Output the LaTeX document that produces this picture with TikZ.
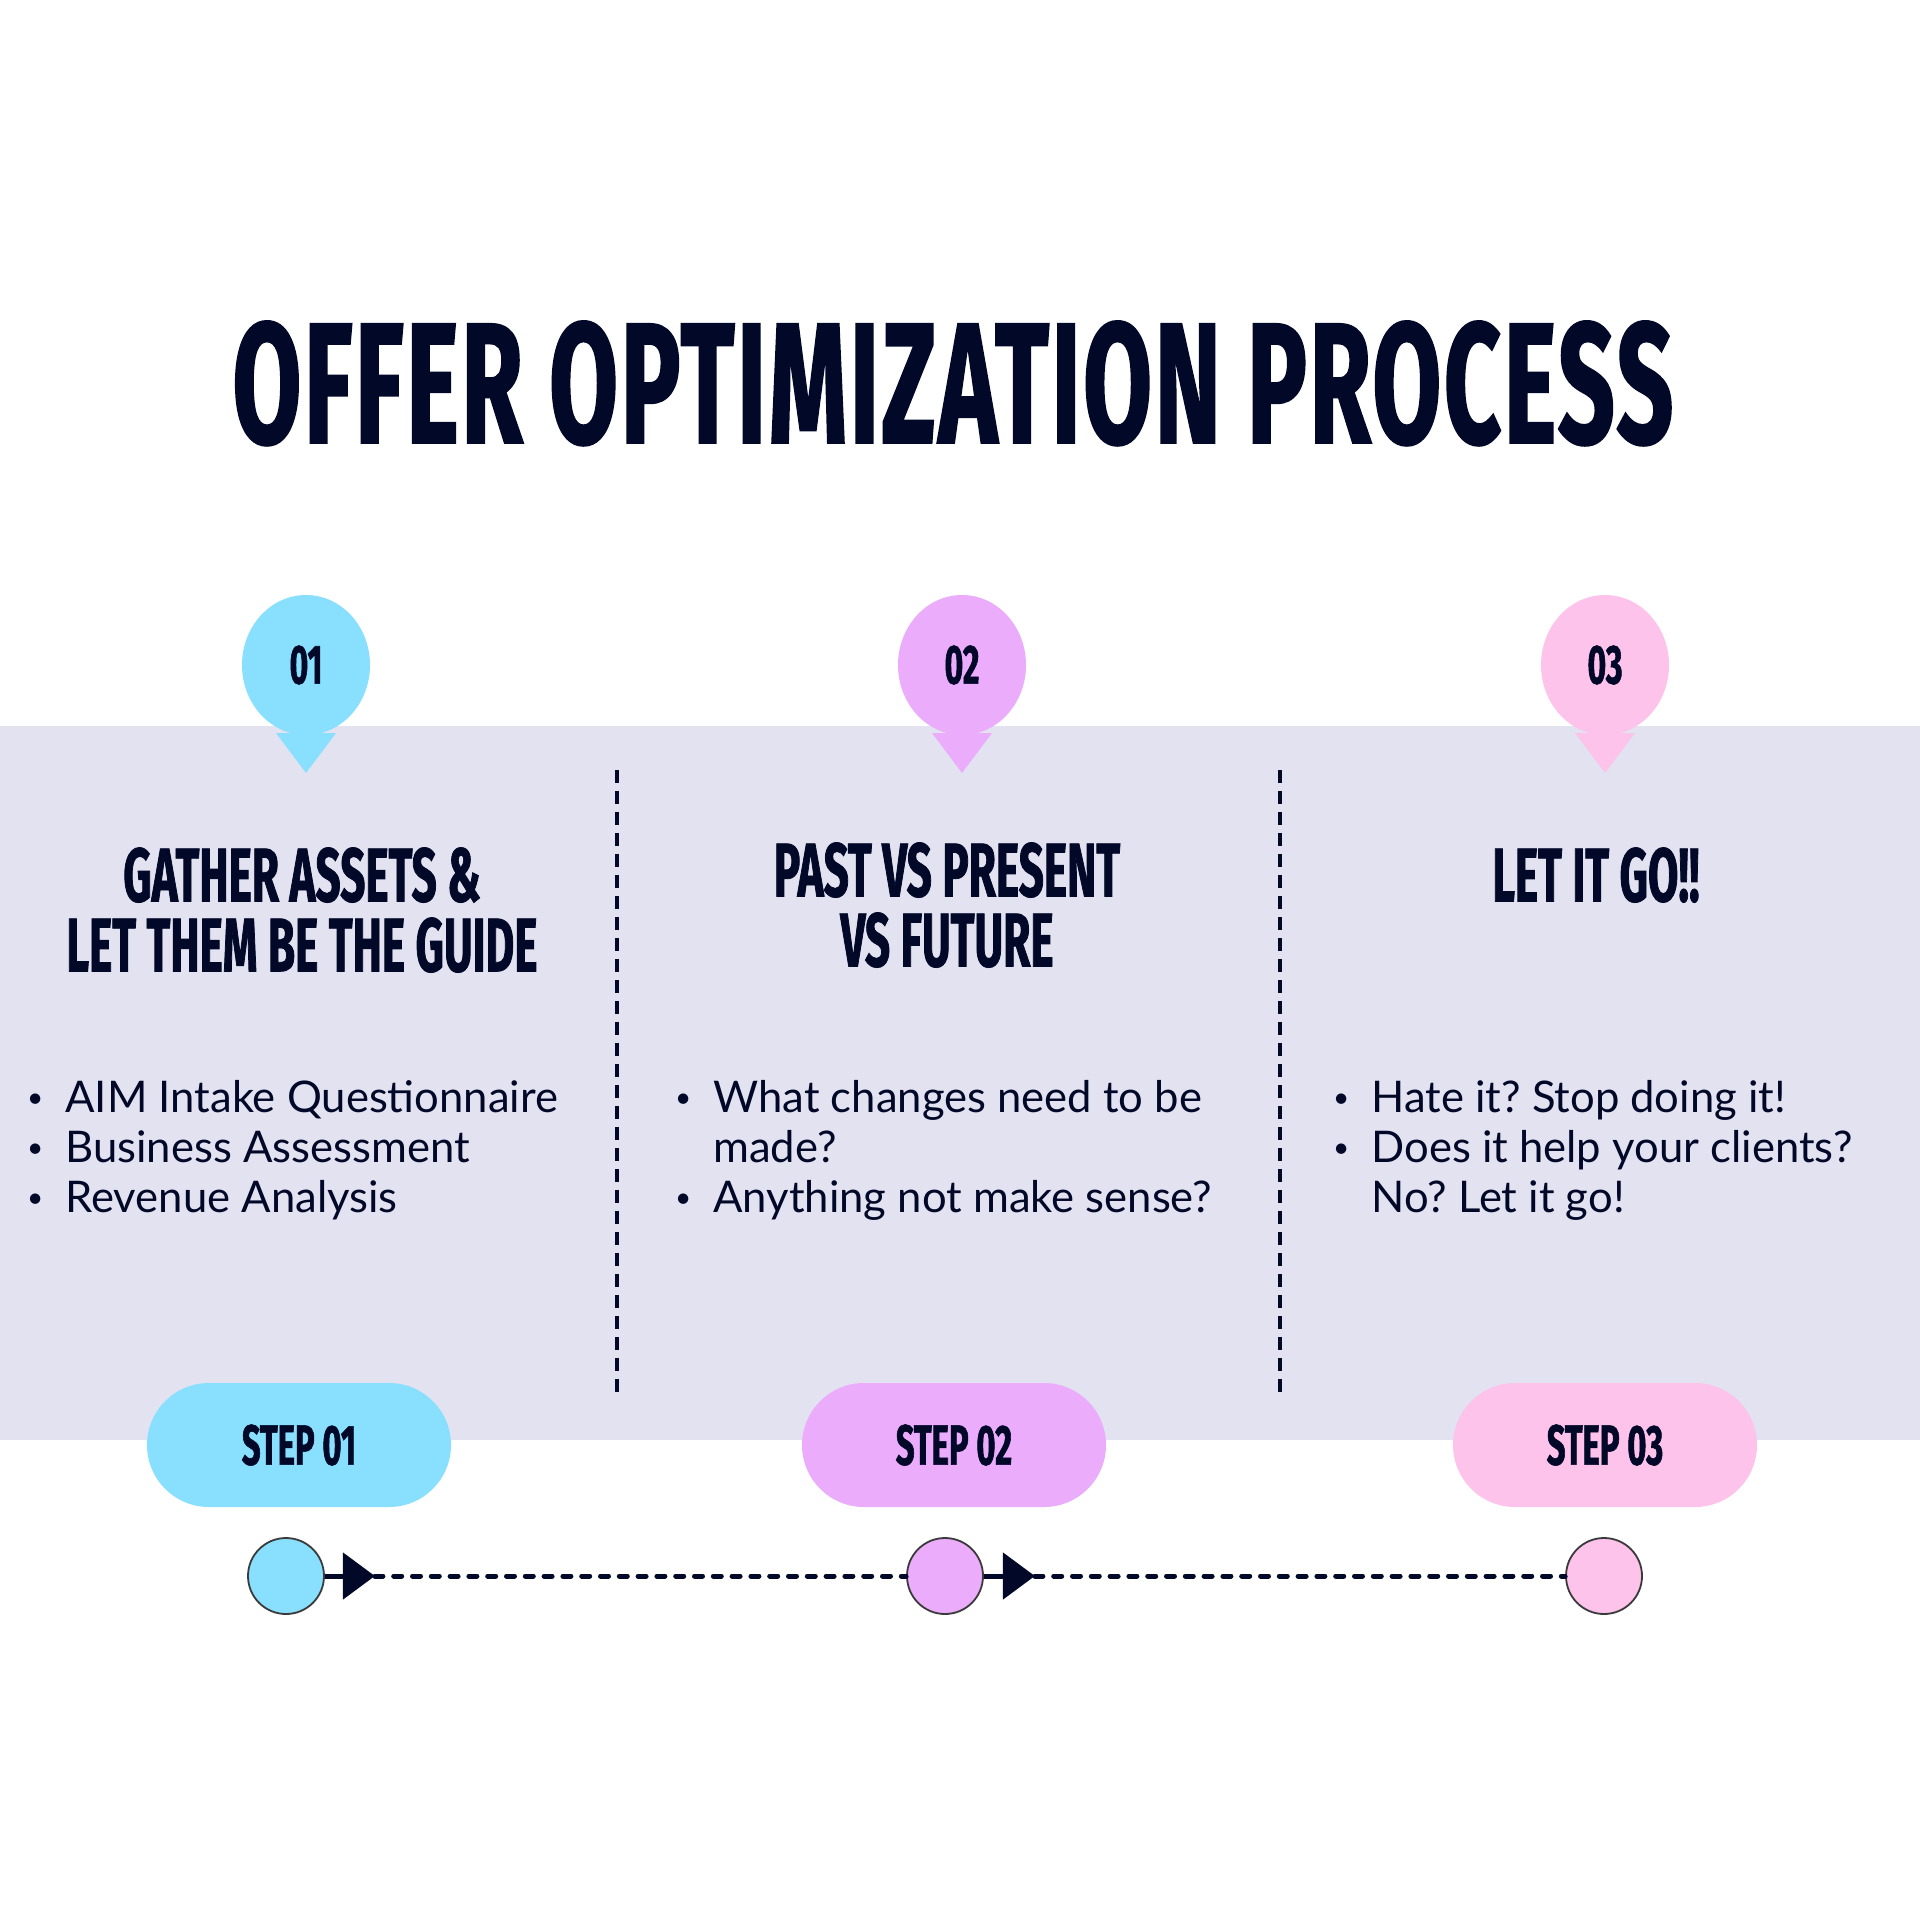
\documentclass[tikz,border=0pt]{standalone}
\usepackage{fontspec}
\setmainfont{Lato}
\newfontfamily\condfont[FakeStretch=0.58,FakeBold=1]{Fira Sans}
\newfontfamily\titlefont[FakeStretch=0.58,FakeBold=1,LetterSpace=1.5]{Fira Sans}
\usetikzlibrary{
    arrows.meta,
    positioning,
    calc,
    shapes.geometric
}

\definecolor{navy}{HTML}{020828}
\definecolor{bandgray}{HTML}{E2E2F0}
\definecolor{skyblue}{HTML}{88DFFE}
\definecolor{orchid}{HTML}{EAACFB}
\definecolor{blush}{HTML}{FDC3EA}
\definecolor{dotline}{HTML}{3A3A3A}

\newcommand{\bul}{\llap{\raisebox{2.4pt}{\fontsize{14}{14}\selectfont\textbullet}\hspace{11pt}}}
\frenchspacing

\tikzset{
    title/.style={font=\titlefont\bfseries\fontsize{86}{86}\selectfont, text=navy, inner sep=0pt, anchor=base},
    heading/.style={font=\condfont\bfseries\fontsize{38}{35}\selectfont, text=navy, align=center, inner sep=0pt, anchor=north},
    bulletlist/.style={font=\fontsize{21.8}{25}\selectfont, text=navy, align=left, inner sep=0pt, anchor=north west},
    pinhead/.style={ellipse, minimum width=64pt, minimum height=70pt, inner sep=0pt, font=\condfont\bfseries\fontsize{27.6}{28}\selectfont, text=navy},
    steppill/.style={rounded corners=31pt, minimum width=152pt, minimum height=62pt, inner sep=0pt, font=\condfont\bfseries\fontsize{28.3}{28}\selectfont, text=navy},
    dot/.style={circle, draw=dotline, line width=0.9pt, minimum size=38pt, inner sep=0pt},
    divider/.style={navy, line width=2pt, dash pattern=on 6.5pt off 4pt},
    flowline/.style={navy, line width=2.5pt},
    flowdash/.style={navy, line width=2.5pt, line cap=round, dash pattern=on 4pt off 5.4pt}
}

\begin{document}
\begin{tikzpicture}[x=0.5pt, y=-0.5pt]
\useasboundingbox (0,0) rectangle (1920,1920);
\fill[white] (0,0) rectangle (1920,1920);
\fill[bandgray] (0,726) rectangle (1920,1440);

\node[title] (title) at (953,443) {OFFER OPTIMIZATION PROCESS};

% pins
\node[pinhead, fill=skyblue] (pin1) at (306,665) {01};
\fill[skyblue] ($(pin1.center)+(-30,68)$) -- ($(pin1.center)+(30,68)$) -- ($(pin1.center)+(0,108)$) -- cycle;
\node[pinhead, fill=orchid] (pin2) at (962,665) {02};
\fill[orchid] ($(pin2.center)+(-30,68)$) -- ($(pin2.center)+(30,68)$) -- ($(pin2.center)+(0,108)$) -- cycle;
\node[pinhead, fill=blush] (pin3) at (1605,665) {03};
\fill[blush] ($(pin3.center)+(-30,68)$) -- ($(pin3.center)+(30,68)$) -- ($(pin3.center)+(0,108)$) -- cycle;

\draw[divider] (617,770) -- (617,1396);
\draw[divider] (1280,770) -- (1280,1396);

\node[heading] (head1) at (302,847) {GATHER ASSETS \&\\LET THEM BE THE GUIDE};
\node[heading] (head2) at (947,842) {PAST VS PRESENT\\VS FUTURE};
\node[heading] (head3) at (1596,847) {LET IT GO!!};

\node[bulletlist] (list1) at (65,1080) {\bul AIM Intake Questionnaire\\\bul Business Assessment\\\bul Revenue Analysis};
\node[bulletlist] (list2) at (713,1080) {\bul What changes need to be\\made?\\\bul Anything not make sense?};
\node[bulletlist] (list3) at (1371,1080) {\bul Hate it? Stop doing it!\\\bul Does it help your clients?\\No? Let it go!};

\node[steppill, fill=skyblue] (step1) at (299,1445) {STEP 01};
\node[steppill, fill=orchid] (step2) at (954,1445) {STEP 02};
\node[steppill, fill=blush] (step3) at (1605,1445) {STEP 03};

% timeline
\node[dot, fill=skyblue] (c1) at (286,1576) {};
\node[dot, fill=orchid] (c2) at (945,1576) {};
\node[dot, fill=blush] (c3) at (1604,1576) {};
\draw[flowline, -{Triangle[length=16pt,width=23pt]}] (c1.east) -- ++(50,0) coordinate (a1);
\draw[flowdash] (a1) -- (c2.west);
\draw[flowline, -{Triangle[length=16pt,width=23pt]}] (c2.east) -- ++(51,0) coordinate (a2);
\draw[flowdash] (a2) -- (c3.west);
\end{tikzpicture}
\end{document}
